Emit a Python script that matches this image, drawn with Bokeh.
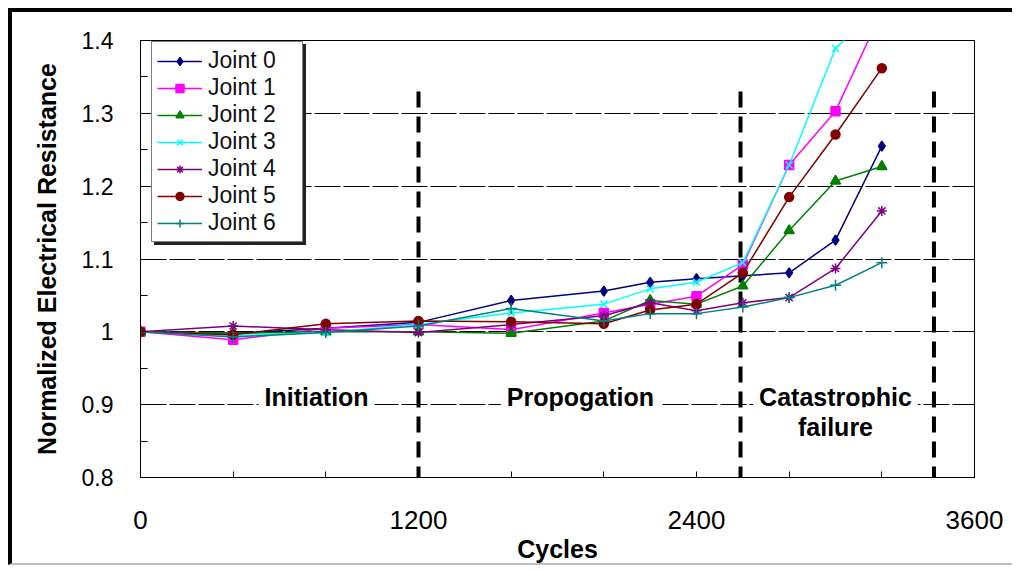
from bokeh.plotting import figure
from bokeh.models import Range1d, FixedTicker, Legend, LegendItem, Label
from bokeh.embed import file_html
from bokeh.resources import INLINE

# ---------------- data ----------------
cycles = [0, 400, 800, 1200, 1600, 2000, 2200, 2400, 2600, 2800, 3000, 3200]
joint0 = [1.000, 0.998, 1.005, 1.013, 1.043, 1.056, 1.068, 1.073, 1.077, 1.081, 1.126, 1.255]
joint1 = [1.000, 0.989, 1.005, 1.010, 1.003, 1.026, 1.038, 1.049, 1.092, 1.229, 1.303, 1.440]
joint2 = [1.000, 0.998, 1.000, 1.000, 0.998, 1.015, 1.043, 1.038, 1.063, 1.139, 1.207, 1.227]
joint3 = [1.000, 0.995, 0.999, 1.010, 1.026, 1.038, 1.059, 1.068, 1.095, 1.229, 1.389, 1.452]
joint4 = [1.000, 1.008, 1.003, 0.999, 1.010, 1.022, 1.040, 1.029, 1.040, 1.047, 1.087, 1.166]
joint5 = [1.000, 0.996, 1.011, 1.015, 1.014, 1.011, 1.030, 1.038, 1.081, 1.185, 1.271, 1.362]
joint6 = [1.000, 0.993, 0.999, 1.008, 1.032, 1.015, 1.025, 1.025, 1.034, 1.047, 1.064, 1.095]

series_names = ["Joint 0", "Joint 1", "Joint 2", "Joint 3", "Joint 4", "Joint 5", "Joint 6"]
series_values = [joint0, joint1, joint2, joint3, joint4, joint5, joint6]
series_colors = ["#000080", "#FF00FF", "#008000", "#00FFFF", "#800080", "#800000", "#008080"]
series_markers = ["diamond", "square", "triangle", "x", "asterisk", "circle", "cross"]
series_sizes = [10, 9, 10, 10, 10, 9, 11]

x_major_ticks = [0, 1200, 2400, 3600]
x_minor_ticks = [400, 800, 1600, 2000, 2800, 3200]
y_major_ticks = [0.8, 0.9, 1.0, 1.1, 1.2, 1.3, 1.4]
y_minor_ticks = [0.85, 0.95, 1.05, 1.15, 1.25, 1.35]

phase_bounds = [1200, 2590, 3425]
phase_bound_top = 1.33
phase_names = ["Initiation", "Propogation", "Catastrophic", "failure"]
phase_label_x = [760, 1899, 3000, 3000]
phase_label_y = [0.911, 0.911, 0.911, 0.869]

FONT = "Liberation Sans"

p = figure(width=1004, height=557,
           x_range=Range1d(0, 3600), y_range=Range1d(0.8, 1.4),
           output_backend="svg", toolbar_location=None,
           min_border_left=128, min_border_right=42,
           min_border_top=28, min_border_bottom=92)
p.styles = {"margin-left": "8px", "margin-top": "8px",
            "border-top": "4px solid black", "border-left": "4px solid black",
            "border-bottom": "2px solid #c0c0c0"}

p.background_fill_color = "white"
p.border_fill_color = "white"
p.outline_line_color = "black"
p.outline_line_width = 1

# grid
p.xgrid.grid_line_color = None
p.ygrid.ticker = FixedTicker(ticks=y_major_ticks)
p.ygrid.grid_line_color = "black"
p.ygrid.grid_line_width = 1
p.ygrid.grid_line_dash = "26 3"

# x axis
xa = p.xaxis[0]
xa.ticker = FixedTicker(ticks=x_major_ticks, minor_ticks=x_minor_ticks)
xa.axis_line_color = "black"
xa.major_tick_in = 6
xa.major_tick_out = 0
xa.minor_tick_in = 6
xa.minor_tick_out = 0
xa.major_tick_line_color = "black"
xa.minor_tick_line_color = "black"
xa.major_label_text_font = FONT
xa.major_label_text_font_size = "26px"
xa.major_label_text_color = "black"
xa.major_label_standoff = 33
xa.axis_label = "Cycles"
xa.axis_label_text_font = FONT
xa.axis_label_text_font_size = "25px"
xa.axis_label_text_font_style = "bold"
xa.axis_label_text_color = "black"
xa.axis_label_standoff = 3

# y axis
ya = p.yaxis[0]
ya.ticker = FixedTicker(ticks=y_major_ticks, minor_ticks=y_minor_ticks)
ya.axis_line_color = "black"
ya.major_tick_in = 7
ya.major_tick_out = 0
ya.minor_tick_in = 7
ya.minor_tick_out = 0
ya.major_tick_line_color = "black"
ya.minor_tick_line_color = "black"
ya.major_label_text_font = FONT
ya.major_label_text_font_size = "23px"
ya.major_label_text_color = "black"
ya.major_label_standoff = 27
ya.major_label_overrides = {1.0: "1"}
ya.axis_label = "Normalized Electrical Resistance"
ya.axis_label_text_font = FONT
ya.axis_label_text_font_size = "25px"
ya.axis_label_text_font_style = "bold"
ya.axis_label_text_color = "black"
ya.axis_label_standoff = 18

# phase boundary lines
p.segment(x0=phase_bounds, y0=[phase_bound_top] * len(phase_bounds),
          x1=phase_bounds, y1=[0.8] * len(phase_bounds),
          line_color="black", line_width=4, line_dash="16 9")

# series
items = []
shadow_items = []
for name, vals, col, mk, sz in zip(series_names, series_values, series_colors,
                                   series_markers, series_sizes):
    ln = p.line(cycles, vals, line_color=col, line_width=1.5)
    sc = p.scatter(cycles, vals, marker=mk, size=sz, fill_color=col,
                   line_color=col, line_width=1.5)
    items.append(LegendItem(label=name, renderers=[ln, sc]))
    shadow_items.append(LegendItem(label=" ", renderers=[ln]))

# phase labels
for t, lx, ly in zip(phase_names, phase_label_x, phase_label_y):
    p.add_layout(Label(x=lx, y=ly, text=t, text_align="center",
                       text_baseline="middle", text_font=FONT,
                       text_font_size="25px", text_font_style="bold",
                       text_color="black", background_fill_color="white",
                       padding=6))

# legend shadow + legend
def make_legend(its, loc, shadow):
    lg = Legend(items=its, location=loc, orientation="vertical")
    lg.label_text_font = FONT
    lg.label_text_font_size = "23px"
    lg.label_text_color = "#111111"
    lg.glyph_width = 45
    lg.glyph_height = 20
    lg.label_height = 27
    lg.label_width = 89
    lg.label_standoff = 6
    lg.spacing = 0
    lg.padding = 5
    lg.margin = 0
    lg.border_line_color = "black" if not shadow else "#222222"
    lg.border_line_width = 1.5
    lg.background_fill_color = "white" if not shadow else "#222222"
    lg.background_fill_alpha = 1.0
    return lg

p.add_layout(make_legend(shadow_items, (14, 232), True))
p.add_layout(make_legend(items, (11, 235), False))

open("out.html", "w").write(file_html(p, INLINE))
